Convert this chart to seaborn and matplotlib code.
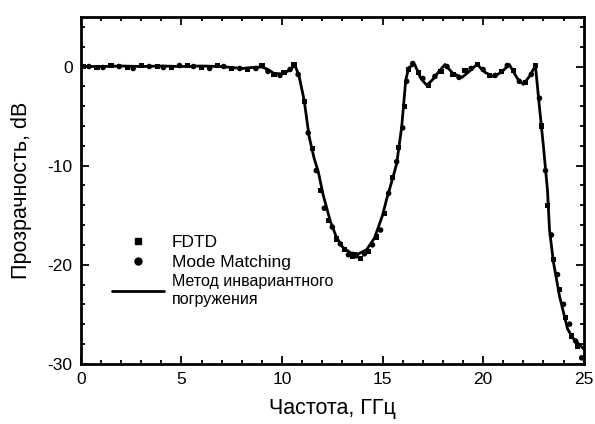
import pandas as pd
import matplotlib.pyplot as plt
import seaborn as sns
from matplotlib.lines import Line2D
from matplotlib.ticker import MultipleLocator

# invariant embedding curve (solid line)
line_f = [0.0, 1.0, 2.0, 3.0, 4.0, 5.0, 6.0, 7.0, 8.0, 8.5, 9.0, 9.3, 9.6, 10.0, 10.3,
          10.65, 10.85, 11.1, 11.35, 11.6, 11.8, 12.05, 12.4, 12.7, 13.0, 13.4, 13.8,
          14.2, 14.6, 15.0, 15.2, 15.5, 15.7, 15.95, 16.15, 16.3, 16.6, 16.9, 17.2,
          17.5, 17.8, 18.1, 18.5, 18.95, 19.3, 19.7, 20.1, 20.5, 20.9, 21.3, 21.7,
          22.0, 22.3, 22.6, 22.8, 23.0, 23.2, 23.3, 23.5, 23.8, 24.2, 24.5, 24.8, 25.0]
line_db = [0.0, 0.0, 0.05, 0.0, 0.05, 0.0, 0.05, 0.0, -0.2, -0.1, -0.05, -0.3, -0.7,
           -0.75, -0.45, 0.1, -1.0, -3.4, -7.1, -9.3, -10.6, -13.0, -15.6, -17.2, -18.2,
           -18.8, -18.9, -18.5, -17.3, -15.0, -13.4, -11.3, -9.8, -6.1, -1.4, -0.1, 0.2,
           -1.2, -1.9, -1.3, -0.5, 0.2, -0.7, -1.1, -0.5, 0.2, -0.6, -1.0, -0.6, 0.2,
           -1.2, -1.8, -1.0, 0.1, -4.1, -8.1, -12.5, -16.5, -19.8, -23.2, -26.5, -27.5,
           -28.1, -28.5]

# FDTD (squares)
fdtd_f = [0.1, 0.8, 1.5, 2.3, 3.0, 3.8, 4.5, 5.3, 6.0, 6.8, 7.5, 8.3, 9.0, 9.6, 10.1,
          10.6, 11.1, 11.5, 11.9, 12.3, 12.7, 13.1, 13.5, 13.9, 14.3, 14.7, 15.1, 15.5,
          15.8, 16.1, 16.3, 16.8, 17.3, 17.9, 18.5, 19.1, 19.7, 20.3, 20.9, 21.5, 22.1,
          22.6, 22.9, 23.2, 23.5, 23.8, 24.1, 24.4, 24.7]
fdtd_db = [0.0, -0.1, 0.1, -0.1, 0.1, 0.0, -0.1, 0.1, -0.1, 0.1, -0.2, -0.3, 0.1, -0.8,
           -0.6, 0.2, -3.5, -8.3, -12.5, -15.5, -17.4, -18.5, -19.2, -19.4, -18.7, -17.2,
           -14.8, -11.2, -8.2, -4.0, -0.3, -0.6, -1.9, -0.5, -0.8, -0.4, 0.2, -0.9, -0.5,
           -0.4, -1.6, 0.1, -6.0, -14.0, -19.5, -22.5, -25.3, -27.2, -28.2]

# Mode Matching (circles)
mm_f = [0.4, 1.1, 1.9, 2.6, 3.4, 4.1, 4.9, 5.6, 6.4, 7.1, 7.9, 8.7, 9.3, 9.9, 10.4,
        10.8, 11.3, 11.7, 12.1, 12.5, 12.9, 13.3, 13.7, 14.1, 14.5, 14.9, 15.3, 15.7,
        16.0, 16.2, 16.5, 17.0, 17.6, 18.2, 18.8, 19.4, 20.0, 20.6, 21.2, 21.8, 22.4,
        22.8, 23.1, 23.4, 23.7, 24.0, 24.3, 24.6, 24.9]
mm_db = [0.0, -0.1, 0.0, -0.2, 0.0, -0.1, 0.1, 0.0, -0.2, 0.0, -0.2, -0.2, -0.5, -0.9,
         -0.3, -0.8, -6.7, -10.5, -14.3, -16.2, -17.9, -19.0, -19.1, -18.9, -18.0, -16.5,
         -12.8, -9.6, -6.2, -1.5, 0.3, -1.2, -1.0, 0.0, -1.1, -0.2, -0.3, -0.9, 0.1, -1.5,
         -0.8, -3.2, -10.5, -17.0, -21.0, -24.0, -26.0, -27.7, -29.4]

sns.set_style('ticks')
plt.rcParams['font.family'] = ['Liberation Sans', 'DejaVu Sans']
plt.rcParams['axes.unicode_minus'] = False
plt.rcParams['text.color'] = 'black'
plt.rcParams['axes.labelcolor'] = 'black'

fig = plt.figure(figsize=(5.95, 4.24), dpi=100)
ax = fig.add_axes([0.136, 0.142, 0.845, 0.818])

sns.lineplot(x=line_f, y=line_db, ax=ax, color='black', lw=2.0)
sns.scatterplot(x=fdtd_f, y=fdtd_db, ax=ax, marker='s', s=14, color='black',
                edgecolor='none', zorder=3)
sns.scatterplot(x=mm_f, y=mm_db, ax=ax, marker='o', s=16, color='black',
                edgecolor='none', zorder=3)

ax.set_xlim(0, 25)
ax.set_ylim(-30, 5)
ax.xaxis.set_major_locator(MultipleLocator(5))
ax.xaxis.set_minor_locator(MultipleLocator(1))
ax.yaxis.set_major_locator(MultipleLocator(10))
ax.yaxis.set_minor_locator(MultipleLocator(2))
ax.tick_params(which='both', direction='in', top=True, right=True, width=1.3,
               labelsize=12.5, colors='black', labelcolor='black')
ax.tick_params(which='major', length=6, pad=6)
ax.tick_params(which='minor', length=3)
for s in ax.spines.values():
    s.set_linewidth(2)
    s.set_color('black')

ax.set_xlabel('Частота, ГГц', fontsize=15.5, labelpad=8, color='black')
ax.set_ylabel('Прозрачность, dB', fontsize=15.5, labelpad=11, color='black')

handles = [
    Line2D([], [], ls='none', marker='s', ms=4, color='black'),
    Line2D([], [], ls='none', marker='o', ms=5, color='black'),
    Line2D([], [], color='black', lw=2),
]
labels = ['FDTD', 'Mode Matching', 'Метод инвариантного\nпогружения']
leg = ax.legend(handles, labels, loc='upper left', bbox_to_anchor=(0.05, 0.39),
                frameon=False, fontsize=11.5, handlelength=3.2, handletextpad=0.5,
                labelspacing=0.3, borderaxespad=0)
for t in leg.get_texts():
    t.set_color('black')
for t in leg.get_texts()[:2]:
    t.set_fontsize(12.5)

fig.savefig('out.png', dpi=100)
